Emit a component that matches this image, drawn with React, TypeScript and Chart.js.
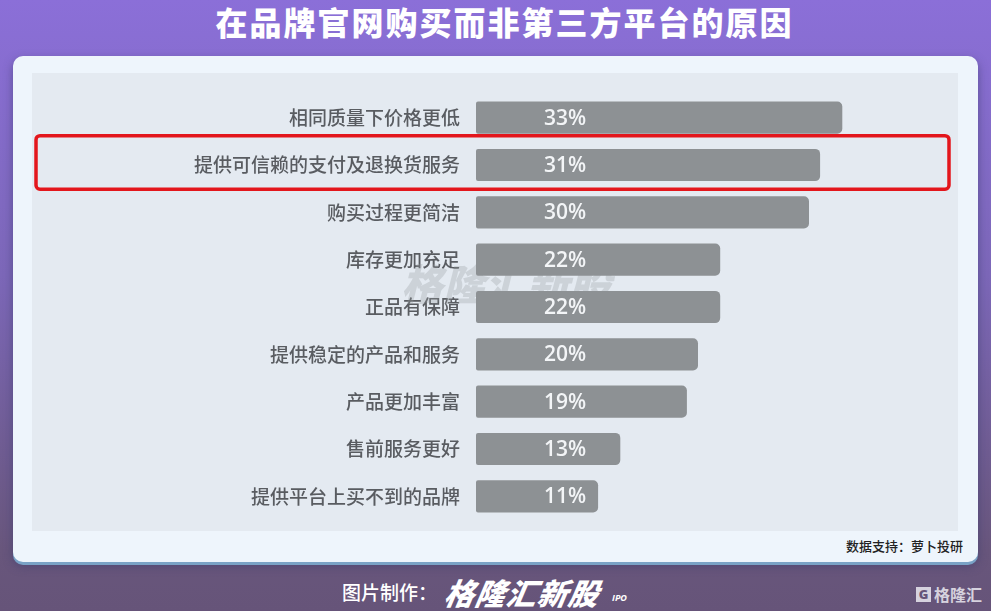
import React, { useEffect, useRef } from "react";
import { Chart, registerables } from "chart.js";

Chart.register(...registerables);

const titleText = "在品牌官网购买而非第三方平台的原因";
const categories = [
  "相同质量下价格更低",
  "提供可信赖的支付及退换货服务",
  "购买过程更简洁",
  "库存更加充足",
  "正品有保障",
  "提供稳定的产品和服务",
  "产品更加丰富",
  "售前服务更好",
  "提供平台上买不到的品牌",
];
const values = [33, 31, 30, 22, 22, 20, 19, 13, 11];
const highlightIndex = 1;
const sourceText = "数据支持：萝卜投研";
const makerLabel = "图片制作：";
const makerBrand = "格隆汇新股";
const watermarkText = "格隆汇新股";
const logoText = "格隆汇";

const CJK = '"Noto Sans CJK SC", "Noto Sans", sans-serif';

export default function App() {
  const canvasRef = useRef<HTMLCanvasElement | null>(null);

  useEffect(() => {
    if (!canvasRef.current) return;

    const watermarkPlugin = {
      id: "watermark",
      beforeDatasetsDraw(chart: any) {
        const { ctx } = chart;
        const y = chart.scales.y;
        const x = chart.scales.x;
        const cy = (y.getPixelForValue(3) + y.getPixelForValue(4)) / 2 + 1;
        const cx = x.getPixelForValue(0) + 30;
        ctx.save();
        ctx.font = `italic 900 42px ${CJK}`;
        ctx.fillStyle = "rgba(150,154,160,0.3)";
        ctx.textAlign = "center";
        ctx.textBaseline = "middle";
        ctx.fillText(watermarkText, cx, cy);
        ctx.restore();
      },
    };

    const valueLabelPlugin = {
      id: "valueLabels",
      afterDatasetsDraw(chart: any) {
        const { ctx } = chart;
        const meta = chart.getDatasetMeta(0);
        const x0 = chart.scales.x.getPixelForValue(0);
        ctx.save();
        ctx.font = `600 21px "Open Sans", sans-serif`;
        ctx.fillStyle = "#f3f5f7";
        ctx.textAlign = "center";
        ctx.textBaseline = "middle";
        meta.data.forEach((bar: any, i: number) => {
          ctx.fillText(values[i] + "%", x0 + 89, bar.y + 1);
        });
        ctx.restore();
      },
    };

    const highlightPlugin = {
      id: "highlight",
      afterDraw(chart: any) {
        const { ctx } = chart;
        const y = chart.scales.y;
        const step = y.getPixelForValue(1) - y.getPixelForValue(0);
        const cy = y.getPixelForValue(highlightIndex);
        const top = cy - step * 0.62;
        const bottom = cy + step * 0.51;
        const left = 4;
        const right = chart.width - 9;
        ctx.save();
        ctx.strokeStyle = "#e3161c";
        ctx.lineWidth = 3.5;
        ctx.beginPath();
        (ctx as any).roundRect(left, top, right - left, bottom - top, 4);
        ctx.stroke();
        ctx.restore();
      },
    };

    const chart = new Chart(canvasRef.current, {
      type: "bar",
      data: {
        labels: categories,
        datasets: [
          {
            data: values,
            backgroundColor: "#8d9194",
            borderRadius: { topLeft: 2, bottomLeft: 2, topRight: 5, bottomRight: 5 },
            borderSkipped: false,
            barPercentage: 0.68,
            categoryPercentage: 1,
          },
        ],
      },
      options: {
        indexAxis: "y",
        animation: false,
        responsive: false,
        maintainAspectRatio: false,
        layout: { padding: { top: 21, bottom: 11, left: 0, right: 38 } },
        plugins: {
          legend: { display: false },
          tooltip: { enabled: false },
        },
        scales: {
          x: { display: false, min: 0, max: 40 },
          y: {
            grid: { display: false, drawTicks: false },
            border: { display: false },
            ticks: {
              padding: 16,
              color: "#595c61",
              font: { family: CJK, size: 19, weight: "500" as any },
            },
            afterFit(scale: any) {
              scale.width = 444;
              scale.paddingTop = 0;
              scale.paddingBottom = 0;
            },
          },
        },
      },
      plugins: [watermarkPlugin, valueLabelPlugin, highlightPlugin],
    });

    return () => chart.destroy();
  }, []);

  return (
    <div
      style={{
        position: "absolute",
        left: 0,
        top: 0,
        width: 991,
        height: 611,
        overflow: "hidden",
        background: "linear-gradient(180deg, #8b6fd8 0%, #7c67b8 45%, #68567c 90%, #665479 100%)",
        fontFamily: CJK,
      }}
    >
      <div
        style={{
          position: "absolute",
          left: 0,
          width: 1009,
          top: 0,
          textAlign: "center",
          color: "#ffffff",
          fontSize: 32,
          fontWeight: 900,
          letterSpacing: 2,
          lineHeight: "42px",
        }}
      >
        {titleText}
      </div>
      <div
        style={{
          position: "absolute",
          left: 13,
          top: 56,
          width: 965,
          height: 506,
          background: "#eef5fc",
          borderRadius: 10,
          boxShadow: "0 3px 0 #79a2c6, 0 4px 10px rgba(60,60,110,0.6)",
        }}
      >
        <div
          style={{
            position: "absolute",
            left: 19,
            top: 17,
            width: 926,
            height: 458,
            background: "#e4eaf1",
          }}
        />
        <div
          style={{
            position: "absolute",
            right: 15,
            top: 481,
            color: "#222222",
            fontSize: 13,
            fontWeight: 500,
            lineHeight: "18px",
          }}
        >
          {sourceText}
        </div>
      </div>
      <canvas
        ref={canvasRef}
        width={926}
        height={458}
        style={{ position: "absolute", left: 32, top: 73, width: 926, height: 458 }}
      />
      <div
        style={{
          position: "absolute",
          left: 342,
          top: 578,
          color: "#ffffff",
          fontSize: 19,
          fontWeight: 500,
          lineHeight: "28px",
          whiteSpace: "nowrap",
        }}
      >
        {makerLabel}
      </div>
      <div
        style={{
          position: "absolute",
          left: 445,
          top: 574,
          color: "#ffffff",
          fontSize: 30,
          fontWeight: 900,
          fontStyle: "italic",
          lineHeight: "36px",
          letterSpacing: 1,
          whiteSpace: "nowrap",
          transform: "skewX(-10deg)",
        }}
      >
        {makerBrand}
      </div>
      <div
        style={{
          position: "absolute",
          left: 612,
          top: 592,
          color: "#ffffff",
          fontSize: 9,
          fontWeight: 700,
          fontStyle: "italic",
          fontFamily: '"Open Sans", sans-serif',
          lineHeight: "12px",
        }}
      >
        IPO
      </div>
      <div
        style={{
          position: "absolute",
          left: 916,
          top: 584,
          color: "#d6d2de",
          fontSize: 16,
          fontWeight: 700,
          lineHeight: "20px",
          whiteSpace: "nowrap",
          display: "flex",
          alignItems: "center",
          gap: 3,
        }}
      >
        <span
          style={{
            display: "inline-block",
            width: 15,
            height: 15,
            background: "#d6d2de",
            color: "#665479",
            fontFamily: '"Open Sans", sans-serif',
            fontSize: 13,
            lineHeight: "15px",
            textAlign: "center",
            fontWeight: 800,
          }}
        >
          G
        </span>
        {logoText}
      </div>
    </div>
  );
}
